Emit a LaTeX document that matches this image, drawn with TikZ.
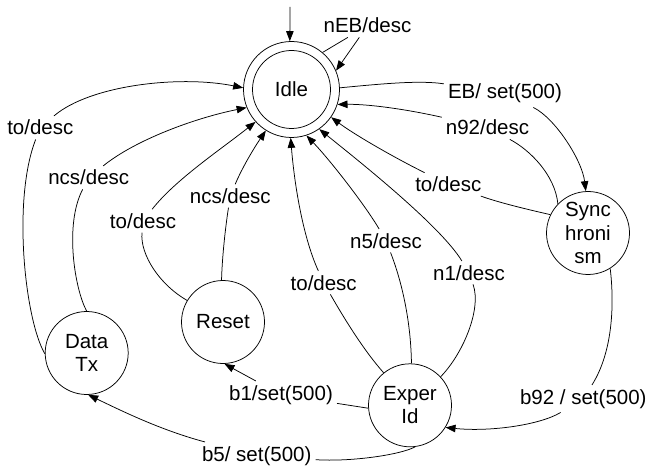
\documentclass[tikz,border=0pt]{standalone}
\usepackage{fontspec}
\setmainfont{Liberation Sans}
\usetikzlibrary{arrows.meta}
\begin{document}
\begin{tikzpicture}[x=1pt,y=-1pt,
  every node/.style={font=\fontsize{20.5pt}{23.4pt}\selectfont},
  state/.style={draw, circle, minimum size=83pt, inner sep=0pt, align=center, line width=0.75pt},
  lbl/.style={inner sep=4pt, anchor=base},
  conn/.style={line width=0.75pt},
  >={Triangle[length=10pt,width=7.5pt]}]
\useasboundingbox (0,0) rectangle (650,470);

% states
\node[state, minimum size=96pt] (idle) at (291.5,89.5) {Idle};
\draw[conn] (idle.center) circle[radius=39pt];
\node[state] (sync) at (588,233) {Sync\\hroni\\sm};
\node[state] (reset) at (223,322) {Reset};
\node[state] (datatx) at (86.7,353) {Data\\Tx};
\node[state] (exper) at (410,405.3) {Exper\\Id};

% labels
\node[lbl] (nEB) at (367.5,33) {nEB/desc};
\node[lbl] (EB) at (505,99) {EB/ set(500)};
\node[lbl] (n92) at (487.5,135) {n92/desc};
\node[lbl] (toS) at (448.3,191.7) {to/desc};
\node[lbl] (n5) at (386,248) {n5/desc};
\node[lbl] (n1) at (469,280) {n1/desc};
\node[lbl] (toE) at (323.7,290) {to/desc};
\node[lbl] (toR) at (143,228.3) {to/desc};
\node[lbl] (ncsR) at (230.3,203.3) {ncs/desc};
\node[lbl] (ncsD) at (88.8,185) {ncs/desc};
\node[lbl] (toD) at (40.3,135) {to/desc};
\node[lbl] (b1) at (281,400) {b1/set(500)};
\node[lbl] (b92) at (583.3,404) {b92 / set(500)};
\node[lbl] (b5) at (256.7,461) {b5/ set(500)};

% initial transition
\coordinate (init) at (290,7);
\draw[conn,->] (init) -- (idle.92);

% nEB/desc self loop
\draw[conn] (idle.50) -- (nEB);
\draw[conn,->] (nEB) -- (idle.23);

% EB/ set(500)
\draw[conn] (idle.2) .. controls (380,84) and (420,80) .. (EB);
\draw[conn,->] (EB) .. controls (555,118) and (582,160) .. (sync.93);

% n92/desc
\draw[conn] (sync.136) .. controls (555,175) and (530,150) .. (n92);
\draw[conn,->] (n92) .. controls (410,110) and (370,104) .. (idle.342);

% to/desc from Sync
\draw[conn] (sync.154) .. controls (530,210) and (500,203) .. (toS);
\draw[conn,->] (toS) .. controls (395,158) and (355,135) .. (idle.325);

% n1/desc
\draw[conn] (exper.43) .. controls (462,355) and (482,310) .. (n1);
\draw[conn,->] (n1) .. controls (440,225) and (355,158) .. (idle.305);

% n5/desc
\draw[conn] (exper.88) .. controls (411,330) and (405,290) .. (n5);
\draw[conn,->] (n5) .. controls (365,205) and (330,160) .. (idle.288);

% to/desc from Exper
\draw[conn] (exper.129) .. controls (365,352) and (345,320) .. (toE);
\draw[conn,->] (toE) .. controls (302,235) and (294,180) .. (idle.269);

% b92 / set(500)
\draw[conn] (sync.302) .. controls (614,300) and (614,350) .. (b92);
\draw[conn,->] (b92) .. controls (540,425) and (490,432) .. (exper.328);

% b5/ set(500)
\draw[conn] (exper.277) .. controls (400,455) and (350,462) .. (b5);
\draw[conn,->] (b5) .. controls (160,430) and (120,410) .. (datatx.272);

% b1/set(500)
\draw[conn] (exper.184) -- (b1);
\draw[conn,->] (b1) -- (reset.272);

% ncs/desc from Reset
\draw[conn] (reset.92) .. controls (222,260) and (225,230) .. (ncsR);
\draw[conn,->] (ncsR) .. controls (242,168) and (254,148) .. (idle.238);

% to/desc from Reset
\draw[conn] (reset.149) .. controls (160,285) and (140,255) .. (toR);
\draw[conn,->] (toR) .. controls (175,180) and (220,150) .. (idle.222);

% ncs/desc from Data Tx
\draw[conn] (datatx.90) .. controls (75,290) and (64,225) .. (ncsD);
\draw[conn,->] (ncsD) .. controls (135,140) and (195,118) .. (idle.202);

% to/desc from Data Tx
\draw[conn] (datatx.181) .. controls (25,320) and (12,200) .. (toD);
\draw[conn,->] (toD) .. controls (90,85) and (180,75) .. (idle.178);
\end{tikzpicture}
\end{document}
